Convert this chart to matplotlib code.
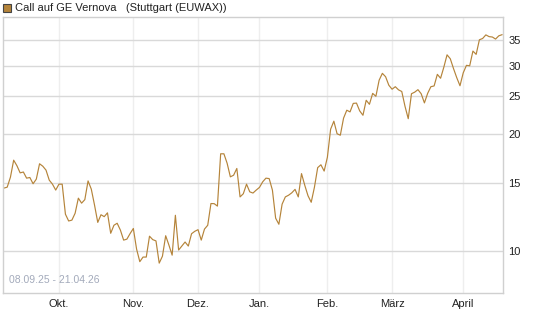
import matplotlib
matplotlib.use("Agg")
import matplotlib.pyplot as plt
import numpy as np
import pandas as pd

plt.rcParams['font.family'] = ['Liberation Sans', 'DejaVu Sans']

title = "Call auf GE Vernova   (Stuttgart (EUWAX))"
date_range_label = "08.09.25 - 21.04.26"

# Handelstage Stuttgart, ohne Feiertage
holidays = ["2025-12-24", "2025-12-25", "2025-12-26", "2025-12-31",
            "2026-01-01", "2026-04-03", "2026-04-06"]
dates = pd.bdate_range("2025-09-08", "2026-04-21")
dates = dates[~dates.isin(pd.to_datetime(holidays))]

prices = [
    14.52, 14.60, 15.49, 17.13, 16.58, 15.89, 15.97, 15.40, 15.46, 14.90,
    15.31, 16.77, 16.53, 16.15, 15.22, 14.86, 14.35, 14.86, 14.86, 12.44,
    11.95, 12.01, 12.51, 13.68, 13.28, 13.56, 15.15, 14.43, 13.13, 11.85,
    12.40, 12.26, 12.54, 11.11, 11.65, 11.79, 11.32, 10.67, 10.73, 11.09,
    11.43, 10.12, 9.39, 9.65, 9.65, 10.92, 10.70, 10.62, 9.31, 9.70,
    10.95, 10.36, 9.76, 12.36, 10.06, 10.30, 10.55, 10.30, 11.08, 11.24,
    11.35, 10.67, 11.39, 11.65, 13.25, 13.24, 13.05, 17.79, 17.79, 16.82,
    15.52, 15.67, 16.31, 13.78, 14.04, 14.86, 14.20, 14.10, 14.35, 14.58,
    15.07, 15.40, 15.36, 14.35, 12.15, 11.72, 13.20, 13.78, 13.92, 14.12,
    14.41, 13.78, 15.82, 14.77, 13.88, 13.35, 14.60, 16.39, 16.67, 16.06,
    17.43, 20.58, 21.58, 20.03, 19.86, 21.97, 23.03, 22.80, 23.98, 24.02,
    22.93, 22.35, 24.43, 23.85, 25.44, 25.01, 27.51, 28.65, 28.08, 26.70,
    26.08, 26.47, 25.98, 25.73, 23.57, 21.90, 25.39, 25.63, 26.01, 25.39,
    24.05, 25.44, 26.47, 26.59, 28.48, 27.83, 29.70, 31.97, 31.24, 29.47,
    27.92, 26.62, 28.73, 30.04, 29.96, 32.69, 32.06, 34.95, 35.22, 35.98,
    35.61, 35.53, 35.10, 35.78, 36.02,
]

month_labels = ["Okt.", "Nov.", "Dez.", "Jan.", "Feb.", "März", "April"]
y_ticks = [10, 15, 20, 25, 30, 35]

line_color = "#b5843a"

x = np.arange(len(prices))
month_idx = pd.Series(x, index=dates).groupby(dates.to_period("M")).first().values[1:]

fig = plt.figure(figsize=(5.45, 3.27), dpi=100)
ax = fig.add_axes([3 / 545, 34 / 327, 500 / 545, 276 / 327])

ax.plot(x, prices, color=line_color, linewidth=0.85)

ax.set_yscale("log")
ax.set_ylim(7.8, 40)
ax.set_xlim(-0.3, 154.3)
ax.yaxis.set_major_locator(plt.FixedLocator(y_ticks))
ax.yaxis.set_minor_locator(plt.NullLocator())
ax.set_yticklabels([str(t) for t in y_ticks])
ax.yaxis.tick_right()
ax.set_xticks(month_idx)
ax.set_xticklabels(month_labels)

ax.tick_params(axis="both", length=0, labelsize=8, colors="#222222")
ax.tick_params(axis="y", pad=4)
ax.tick_params(axis="x", pad=4)

ax.grid(axis="y", color="#d9d9d9", linewidth=1.0)
ax.grid(axis="x", color="#eeeeee", linewidth=1.0)
ax.set_axisbelow(True)
for s in ax.spines.values():
    s.set_color("#d0d0d0")
    s.set_linewidth(1.0)

ax.text(0.012, 0.03, date_range_label, transform=ax.transAxes,
        fontsize=7.5, color="#a3aabb", ha="left", va="bottom")

# Legende oben links
fig.patches.append(plt.Rectangle((3 / 545, 1 - 12 / 327), 8 / 545, 8 / 327,
                                 transform=fig.transFigure, facecolor=line_color,
                                 edgecolor="#444444", linewidth=0.8))
fig.text(15 / 545, 1 - 8 / 327, title, fontsize=8, color="#222222",
         ha="left", va="center")

fig.savefig("out.png", dpi=100)
